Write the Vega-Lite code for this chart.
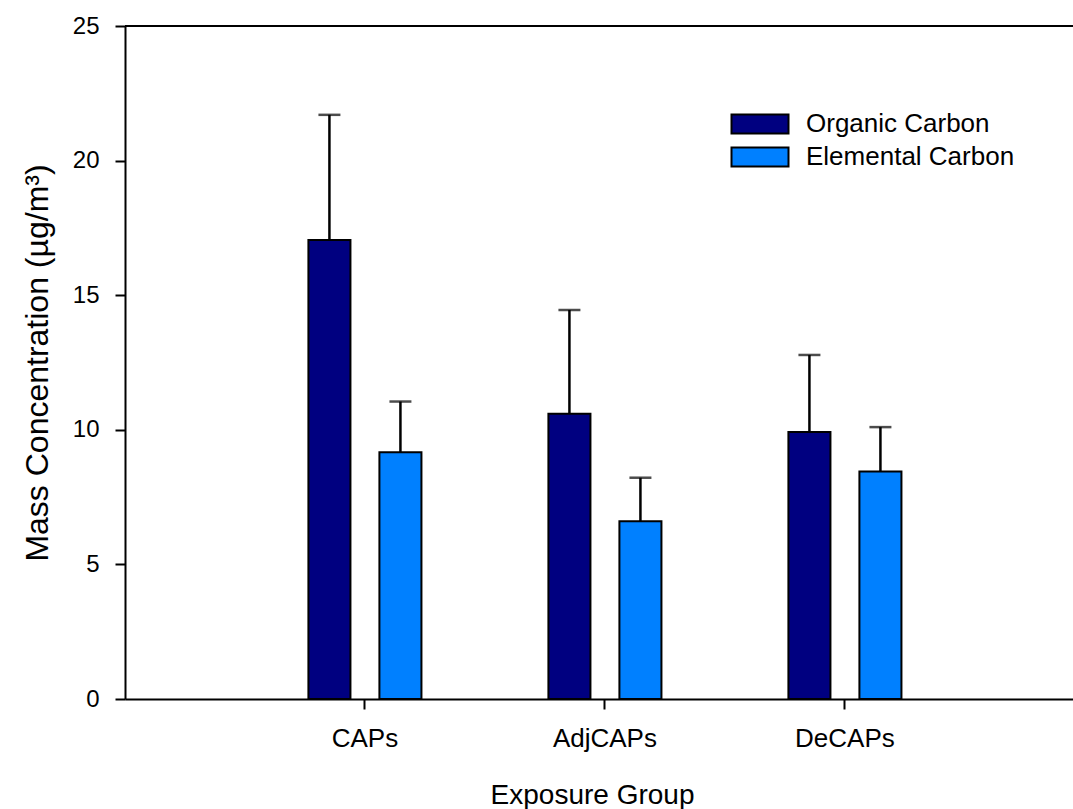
{
  "$schema": "https://vega.github.io/schema/vega-lite/v6.json",
  "width": 948,
  "height": 673,
  "autosize": {"type": "none"},
  "padding": {"left": 125, "top": 26, "right": 0, "bottom": 110},
  "background": "white",
  "config": {
    "view": {"stroke": null},
    "font": "Liberation Sans",
    "axis": {
      "domainColor": "black",
      "domainWidth": 2,
      "tickColor": "black",
      "tickWidth": 2,
      "tickSize": 10,
      "labelColor": "black",
      "titleColor": "black",
      "titleFontWeight": "normal",
      "grid": false
    }
  },
  "data": {
    "values": [
      {"group": "CAPs", "carbon": "Organic Carbon", "value": 17.05, "upper": 21.7},
      {"group": "CAPs", "carbon": "Elemental Carbon", "value": 9.17, "upper": 11.05},
      {"group": "AdjCAPs", "carbon": "Organic Carbon", "value": 10.6, "upper": 14.45},
      {"group": "AdjCAPs", "carbon": "Elemental Carbon", "value": 6.6, "upper": 8.22},
      {"group": "DeCAPs", "carbon": "Organic Carbon", "value": 9.92, "upper": 12.78},
      {"group": "DeCAPs", "carbon": "Elemental Carbon", "value": 8.45, "upper": 10.1}
    ]
  },
  "encoding": {
    "x": {
      "field": "group",
      "type": "nominal",
      "sort": ["CAPs", "AdjCAPs", "DeCAPs"],
      "scale": {"paddingInner": 0, "paddingOuter": 0.475, "align": 0.526},
      "axis": {
        "title": "Exposure Group",
        "labelAngle": 0,
        "labelFontSize": 26,
        "labelPadding": 16,
        "titleFontSize": 28,
        "titlePadding": 30,
        "titleX": 467
      }
    },
    "xOffset": {
      "field": "carbon",
      "type": "nominal",
      "sort": ["Organic Carbon", "Elemental Carbon"],
      "scale": {"paddingInner": 0.408, "paddingOuter": 0.894}
    }
  },
  "layer": [
    {
      "mark": {"type": "rule", "color": "black", "strokeWidth": 2},
      "encoding": {"x": null, "xOffset": null, "y": {"datum": 25}}
    },
    {
      "mark": {"type": "bar", "stroke": "black", "strokeWidth": 2},
      "encoding": {
        "y": {
          "field": "value",
          "type": "quantitative",
          "scale": {"domain": [0, 25], "nice": false},
          "axis": {
            "title": "Mass Concentration (µg/m³)",
            "values": [0, 5, 10, 15, 20, 25],
            "labelFontSize": 24,
            "labelPadding": 16,
            "titleFontSize": 32,
            "titlePadding": 18
          }
        },
        "color": {
          "field": "carbon",
          "type": "nominal",
          "sort": ["Organic Carbon", "Elemental Carbon"],
          "scale": {"range": ["#000080", "#0080ff"]},
          "legend": {
            "title": null,
            "orient": "none",
            "legendX": 622,
            "legendY": 85,
            "padding": 0,
            "symbolType": "M-3,-1H3V1H-3Z",
            "symbolSize": 361,
            "symbolStrokeColor": "black",
            "symbolStrokeWidth": 2,
            "symbolOpacity": 1,
            "labelFontSize": 26,
            "labelColor": "black",
            "labelLimit": 400,
            "labelOffset": 33,
            "rowPadding": 5
          }
        }
      }
    },
    {
      "mark": {"type": "rule", "color": "black", "strokeWidth": 2.5},
      "encoding": {
        "y": {"field": "value", "type": "quantitative"},
        "y2": {"field": "upper"}
      }
    },
    {
      "mark": {"type": "tick", "color": "black", "size": 22, "thickness": 2.5, "orient": "horizontal"},
      "encoding": {
        "y": {"field": "upper", "type": "quantitative"}
      }
    }
  ]
}
